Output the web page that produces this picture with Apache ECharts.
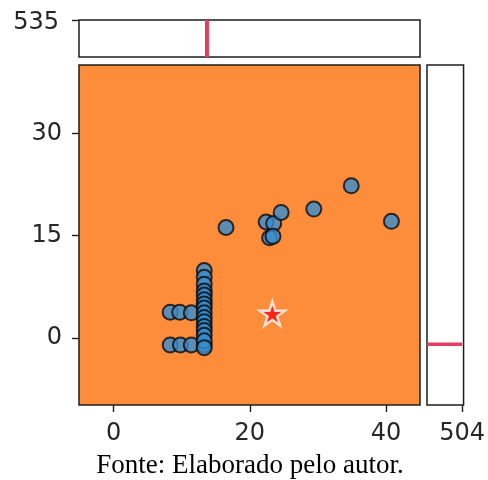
<!DOCTYPE html>
<html>
<head>
<meta charset="utf-8">
<script src="https://cdn.jsdelivr.net/npm/echarts@6/dist/echarts.min.js"></script>
<style>
  html, body { margin: 0; padding: 0; background: #ffffff; }
  #chart { width: 488px; height: 480px; }
</style>
</head>
<body>
<div id="chart"></div>
<script>
// Scatter points (x, y)
const pointX = [
  8.3, 9.7, 11.4,
  8.3, 9.8, 11.4, 13.3,
  13.3, 13.3, 13.3, 13.3, 13.3, 13.3, 13.3, 13.3, 13.3, 13.3, 13.3, 13.3, 13.3, 13.3, 13.3, 13.3,
  16.5, 22.4, 23.5, 24.6, 22.9, 23.4, 29.4, 34.9, 40.8
];
const pointY = [
  3.8, 3.8, 3.7,
  -1.0, -1.0, -1.0, -1.0,
  9.9, 8.9, 7.9, 6.9, 6.3, 5.6, 5.0, 4.4, 3.7, 3.0, 2.4, 1.7, 1.1, 0.4, -0.4, -1.4,
  16.2, 17.0, 16.8, 18.4, 14.7, 14.9, 18.9, 22.3, 17.1
];
// Highlighted point
const starPoint = [23.3, 3.6];
// Marginal markers
const topMarkerX = 13.7;
const topMarkerHeight = 535;
const rightMarkerY = -0.9;
const rightMarkerLength = 504;
// Tick labels
const mainXTicks = [0, 20, 40];
const mainYTicks = [0, 15, 30];
const topYTicks = [535];
const rightXTicks = [504];
const caption = 'Fonte: Elaborado pelo autor.';

const points = pointX.map((x, i) => [x, pointY[i]]);

// five-pointed star outline
function starPath() {
  const pts = [];
  for (let k = 0; k < 10; k++) {
    const r = k % 2 === 0 ? 100 : 38.2;
    const a = (-90 + k * 36) * Math.PI / 180;
    pts.push((r * Math.cos(a)).toFixed(2) + ',' + (r * Math.sin(a)).toFixed(2));
  }
  return 'path://M' + pts.join(' L') + ' Z';
}

const frame = '#1e1e1e';
const textColor = '#262626';
const font = 'DejaVu Sans';
const markerColor = '#e0405e';

const tickStyle = { color: frame, width: 1.4 };
const labelBase = { color: textColor, fontFamily: font, fontSize: 24 };
const hiddenLine = { show: false, onZero: false };

const chart = echarts.init(document.getElementById('chart'), null, { renderer: 'canvas' });
chart.setOption({
  animation: false,
  grid: [
    { left: 79, top: 65, width: 341, height: 340, show: true, backgroundColor: '#fd8c3b', borderColor: frame, borderWidth: 1.5 },
    { left: 79, top: 20, width: 341, height: 37, show: true, backgroundColor: '#ffffff', borderColor: frame, borderWidth: 1.5 },
    { left: 427, top: 65, width: 37, height: 340, show: true, backgroundColor: '#ffffff', borderColor: frame, borderWidth: 1.5 }
  ],
  xAxis: [
    {
      gridIndex: 0, type: 'value', min: -5.1, max: 45,
      axisLine: hiddenLine,
      splitLine: { show: false },
      axisTick: { show: true, customValues: mainXTicks, length: 7, lineStyle: tickStyle },
      axisLabel: Object.assign({ customValues: mainXTicks, margin: 17 }, labelBase)
    },
    { gridIndex: 1, type: 'value', min: -5.1, max: 45, show: false, axisLine: hiddenLine },
    {
      gridIndex: 2, type: 'value', min: 0, max: 525,
      axisLine: hiddenLine,
      splitLine: { show: false },
      axisTick: { show: true, customValues: rightXTicks, length: 7, lineStyle: tickStyle },
      axisLabel: Object.assign({ customValues: rightXTicks, margin: 17 }, labelBase)
    }
  ],
  yAxis: [
    {
      gridIndex: 0, type: 'value', min: -9.8, max: 40,
      axisLine: hiddenLine,
      splitLine: { show: false },
      axisTick: { show: true, customValues: mainYTicks, length: 7, lineStyle: tickStyle },
      axisLabel: Object.assign({ customValues: mainYTicks, margin: 17 }, labelBase)
    },
    {
      gridIndex: 1, type: 'value', min: 0, max: 535,
      axisLine: hiddenLine,
      splitLine: { show: false },
      axisTick: { show: true, customValues: topYTicks, length: 7, lineStyle: tickStyle },
      axisLabel: Object.assign({ customValues: topYTicks, margin: 20, lineHeight: 30, verticalAlign: 'top', padding: [-12, 0, 0, 0] }, labelBase)
    },
    { gridIndex: 2, type: 'value', min: -9.8, max: 40, show: false, axisLine: hiddenLine }
  ],
  series: [
    {
      type: 'scatter', xAxisIndex: 0, yAxisIndex: 0,
      data: points,
      symbol: 'circle', symbolSize: 15,
      itemStyle: { color: '#378dd0', borderColor: '#0a0a0a', borderWidth: 2 },
      z: 3
    },
    {
      type: 'scatter', xAxisIndex: 0, yAxisIndex: 0,
      data: [starPoint],
      symbol: starPath(), symbolSize: [25, 24],
      itemStyle: { color: '#ff0a0a', borderColor: '#ffffff', borderWidth: 2.5 },
      z: 4
    },
    {
      type: 'line', xAxisIndex: 1, yAxisIndex: 1,
      data: [[topMarkerX, 0], [topMarkerX, topMarkerHeight]],
      symbol: 'none',
      lineStyle: { color: markerColor, width: 4 }
    },
    {
      type: 'line', xAxisIndex: 2, yAxisIndex: 2,
      data: [[0, rightMarkerY], [rightMarkerLength, rightMarkerY]],
      symbol: 'none',
      lineStyle: { color: markerColor, width: 3.5 }
    }
  ],
  graphic: [
    {
      type: 'text', x: 250, y: 452,
      style: { text: caption, fill: '#000000', font: '27px "Liberation Serif"', align: 'center' }
    }
  ]
});
</script>
</body>
</html>
